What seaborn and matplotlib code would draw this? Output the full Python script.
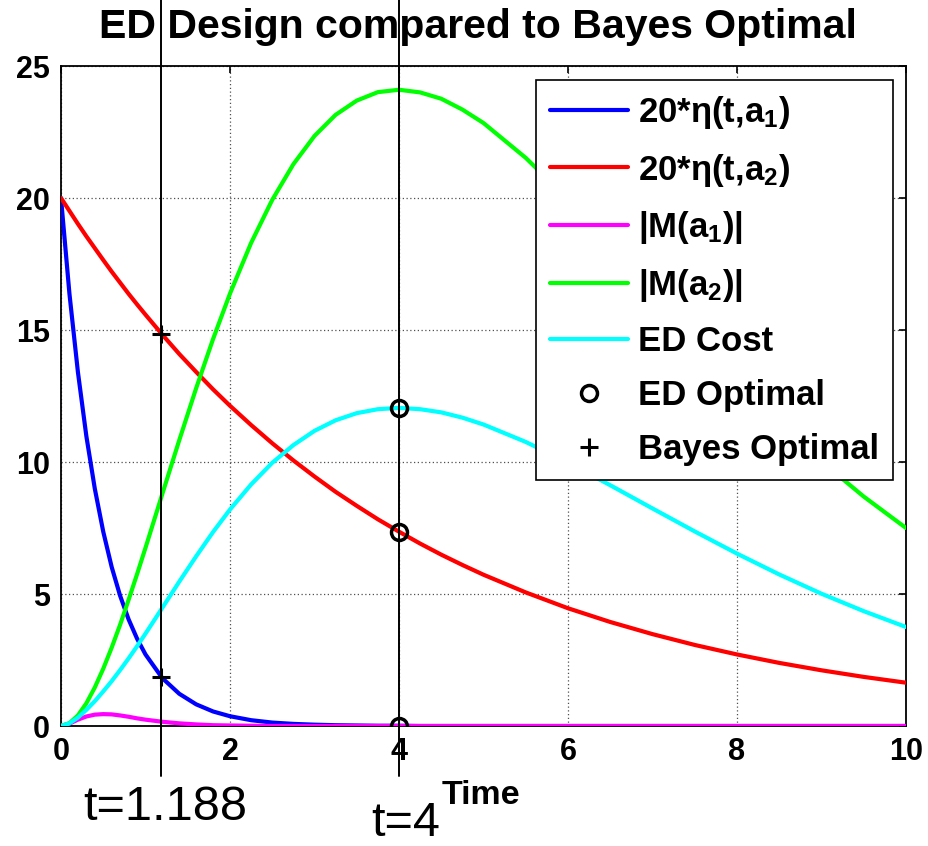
import numpy as np
import pandas as pd
import matplotlib
matplotlib.use("Agg")
import matplotlib.pyplot as plt
import seaborn as sns

# ---------------- data ----------------
time = [0, 0.1, 0.2, 0.3, 0.4, 0.5, 0.6, 0.7, 0.8, 0.9, 1.0, 1.2, 1.4, 1.6,
        1.8, 2.0, 2.25, 2.5, 2.75, 3.0, 3.25, 3.5, 3.75, 4.0, 4.25, 4.5, 4.75,
        5.0, 5.5, 6.0, 6.5, 7.0, 7.5, 8.0, 8.5, 9.0, 9.5, 10.0]
eta_a1 = [20, 16.37, 13.41, 10.98, 8.99, 7.36, 6.02, 4.93, 4.04, 3.31, 2.71,
          1.81, 1.22, 0.82, 0.55, 0.37, 0.22, 0.13, 0.08, 0.05, 0.03, 0.02,
          0.01, 0.01, 0.0, 0.0, 0.0, 0.0, 0.0, 0.0, 0.0, 0.0, 0.0, 0.0, 0.0,
          0.0, 0.0, 0.0]
eta_a2 = [20, 19.51, 19.02, 18.55, 18.10, 17.65, 17.21, 16.79, 16.37, 15.97,
          15.58, 14.82, 14.09, 13.41, 12.75, 12.13, 11.40, 10.71, 10.06, 9.45,
          8.87, 8.34, 7.83, 7.36, 6.91, 6.49, 6.10, 5.73, 5.06, 4.46, 3.94,
          3.48, 3.07, 2.71, 2.39, 2.11, 1.86, 1.64]
M_a1 = [0, 0.09, 0.24, 0.36, 0.43, 0.45, 0.44, 0.40, 0.35, 0.29, 0.24, 0.16,
        0.10, 0.06, 0.03, 0.02, 0.01, 0.0, 0.0, 0.0, 0.0, 0.0, 0.0, 0.0, 0.0,
        0.0, 0.0, 0.0, 0.0, 0.0, 0.0, 0.0, 0.0, 0.0, 0.0, 0.0, 0.0, 0.0]
M_a2 = [0, 0.11, 0.40, 0.86, 1.46, 2.17, 2.97, 3.84, 4.78, 5.75, 6.75, 8.80,
        10.83, 12.80, 14.66, 16.38, 18.30, 19.93, 21.28, 22.35, 23.15, 23.69,
        24.01, 24.10, 24.00, 23.76, 23.35, 22.84, 21.52, 19.95, 18.23, 16.47,
        14.73, 13.05, 11.47, 10.02, 8.69, 7.50]
ed_cost = [0, 0.10, 0.32, 0.61, 0.94, 1.31, 1.70, 2.12, 2.56, 3.02, 3.50,
           4.48, 5.47, 6.43, 7.35, 8.20, 9.15, 9.97, 10.64, 11.18, 11.58,
           11.85, 12.00, 12.05, 12.00, 11.88, 11.68, 11.42, 10.76, 9.98, 9.12,
           8.24, 7.37, 6.53, 5.74, 5.01, 4.35, 3.75]

t_ed = 4.0
ed_opt_y = [12.05, 7.36, 0.0]
t_bayes = 1.188
bayes_opt_y = [14.85, 1.86]

labels = ['20*η(t,a$_1$)', '20*η(t,a$_2$)', '|M(a$_1$)|', '|M(a$_2$)|',
          'ED Cost', 'ED Optimal', 'Bayes Optimal']
colors = ['#0000ff', '#ff0000', '#ff00ff', '#00ff00', '#00ffff']
xticks = [0, 2, 4, 6, 8, 10]
yticks = [0, 5, 10, 15, 20, 25]
title = 'ED Design compared to Bayes Optimal'
xlabel = 'Time'
annot = ['t=1.188', 't=4']

# ---------------- style ----------------
sns.set_theme(style='white')
plt.rcParams['font.family'] = ['Liberation Sans', 'DejaVu Sans']
plt.rcParams['font.weight'] = 'bold'
plt.rcParams['text.color'] = 'black'
plt.rcParams['axes.labelcolor'] = 'black'
plt.rcParams['xtick.color'] = 'black'
plt.rcParams['ytick.color'] = 'black'
plt.rcParams['mathtext.fontset'] = 'custom'
plt.rcParams['mathtext.rm'] = 'Liberation Sans:bold'
plt.rcParams['mathtext.it'] = 'Liberation Sans:bold'
plt.rcParams['mathtext.bf'] = 'Liberation Sans:bold'
plt.rcParams['mathtext.default'] = 'rm'

fig = plt.figure(figsize=(9.29, 8.46), dpi=100)
ax = fig.add_axes([61 / 929, 1 - 726 / 846, 845 / 929, 660 / 846])

df = pd.DataFrame({'time': time, 'eta1': eta_a1, 'eta2': eta_a2,
                   'M1': M_a1, 'M2': M_a2, 'cost': ed_cost})
for col, lab, c in zip(['eta1', 'eta2', 'M1', 'M2', 'cost'], labels[:5], colors):
    sns.lineplot(data=df, x='time', y=col, color=c, lw=3, label=lab, ax=ax,
                 estimator=None, sort=False, zorder=3)

sns.lineplot(x=[t_ed] * len(ed_opt_y), y=ed_opt_y, estimator=None, sort=False,
             linestyle='', marker='o', markersize=11.5, markerfacecolor='none',
             markeredgecolor='black', markeredgewidth=2.5, color='black',
             label=labels[5], ax=ax, zorder=5)
sns.lineplot(x=[t_bayes] * len(bayes_opt_y), y=bayes_opt_y, estimator=None,
             sort=False, linestyle='', marker='+', markersize=13,
             markeredgecolor='black', markeredgewidth=2.2, color='black',
             label=labels[6], ax=ax, zorder=5)

# vertical marker lines extending beyond the axes
trans = ax.get_xaxis_transform()
for tv in [t_bayes, t_ed]:
    ax.plot([tv, tv], [-0.076, 1.1], transform=trans, color='black', lw=1.4,
            clip_on=False, zorder=4)

ax.text(t_bayes + 0.05, -0.124, annot[0], transform=trans, ha='center',
        va='center', fontsize=35, fontweight='normal', clip_on=False)
ax.text(t_ed + 0.08, -0.148, annot[1], transform=trans, ha='center',
        va='center', fontsize=35, fontweight='normal', clip_on=False)

ax.set_xlim(0, 10)
ax.set_ylim(0, 25)
ax.set_xticks(xticks)
ax.set_yticks(yticks)
ax.set_xticklabels([str(v) for v in xticks], fontsize=22, fontweight='bold')
ax.set_yticklabels([str(v) for v in yticks], fontsize=22, fontweight='bold')
ax.tick_params(direction='in', length=5, width=1.2, top=True, right=True,
               colors='black', pad=8)
ax.grid(True, color='#505050', linestyle=(0, (1, 2)), lw=0.9)
ax.set_axisbelow(True)
for s in ax.spines.values():
    s.set_color('black')
    s.set_linewidth(1.3)

ax.set_xlabel(xlabel, fontsize=24.5, fontweight='bold')
ax.xaxis.set_label_coords(0.497, -0.106)
ax.xaxis.label.set_verticalalignment('center')
ax.set_ylabel('')
ax.set_title(title, fontsize=29.5, fontweight='bold', x=0.494, y=1.042, pad=0)

leg = ax.legend(loc='upper right', bbox_to_anchor=(0.985, 0.979),
                borderaxespad=0, fontsize=25, frameon=True, fancybox=False,
                framealpha=1, edgecolor='black', handlelength=2.25,
                labelspacing=0.6, borderpad=0.4, handletextpad=0.3)
leg.get_frame().set_linewidth(1.2)

fig.savefig('out.png', dpi=100)
